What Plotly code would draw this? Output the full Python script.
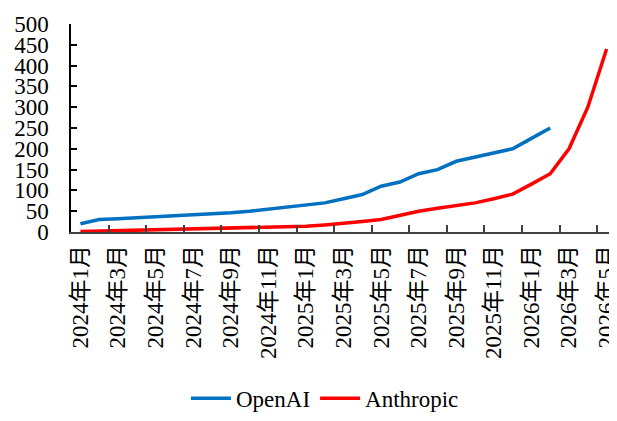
import plotly.graph_objects as go

months = []
for y in (2024, 2025, 2026):
    for m in range(1, 13):
        if y == 2026 and m > 5:
            break
        months.append(f"{y}年{m}月")

openai = [20, 30, 32, 34, 36, 40, 42, 44, 46, 50, 55, 60, 65, 70, 80, 90,
          110, 120, 140, 150, 170, 180, 190, 200, 225, 250]
anthropic = [1, 2, 3, 4, 5, 5, 6, 7, 8, 9, 10, 12, 14, 17, 20, 25,
             30, 40, 50, 57, 63, 70, 80, 91, 115, 140, 200, 300, 440]
y_ticks = list(range(0, 501, 50))

xi = list(range(len(months)))
font_family = "Liberation Serif, Noto Sans CJK SC"

fig = go.Figure()
fig.add_trace(go.Scatter(x=xi[:len(openai)], y=openai, name="OpenAI", mode="lines",
                         line=dict(color="#0070C0", width=3.5)))
fig.add_trace(go.Scatter(x=xi[:len(anthropic)], y=anthropic, name="Anthropic", mode="lines",
                         line=dict(color="#FF0000", width=3.5)))

fig.update_layout(
    width=617, height=421,
    margin=dict(l=63, r=9, t=16, b=189),
    paper_bgcolor="white", plot_bgcolor="white",
    font=dict(family=font_family, size=23, color="black"),
    showlegend=True,
    legend=dict(orientation="h", x=0.466, xanchor="center", y=-0.80, yanchor="middle",
                font=dict(family=font_family, size=23), itemwidth=40, tracegroupgap=0),
)
fig.update_xaxes(
    range=[-0.5, len(months) - 0.5],
    tickmode="array", tickvals=xi[::2], ticktext=months[::2],
    tickangle=-90, ticks="", ticklen=0, ticklabelstandoff=2,
    tickfont=dict(family=font_family, size=23),
    showline=True, linecolor="#404040", linewidth=1.5,
    showgrid=False, zeroline=False, automargin=False,
    minor=dict(tickmode="array", tickvals=[v + 1.5 for v in xi[::2]][:-1],
               ticks="inside", ticklen=7, tickcolor="#404040", tickwidth=1.5, showgrid=False),
)
fig.update_yaxes(
    range=[0, 500], tickmode="array", tickvals=y_ticks,
    tickfont=dict(family=font_family, size=23),
    ticks="inside", ticklen=6, tickcolor="black", tickwidth=1.5,
    showline=True, linecolor="black", linewidth=1.5, automargin=False,
    showgrid=False, zeroline=False, ticklabelstandoff=16,
)
fig.write_html("out.html")
